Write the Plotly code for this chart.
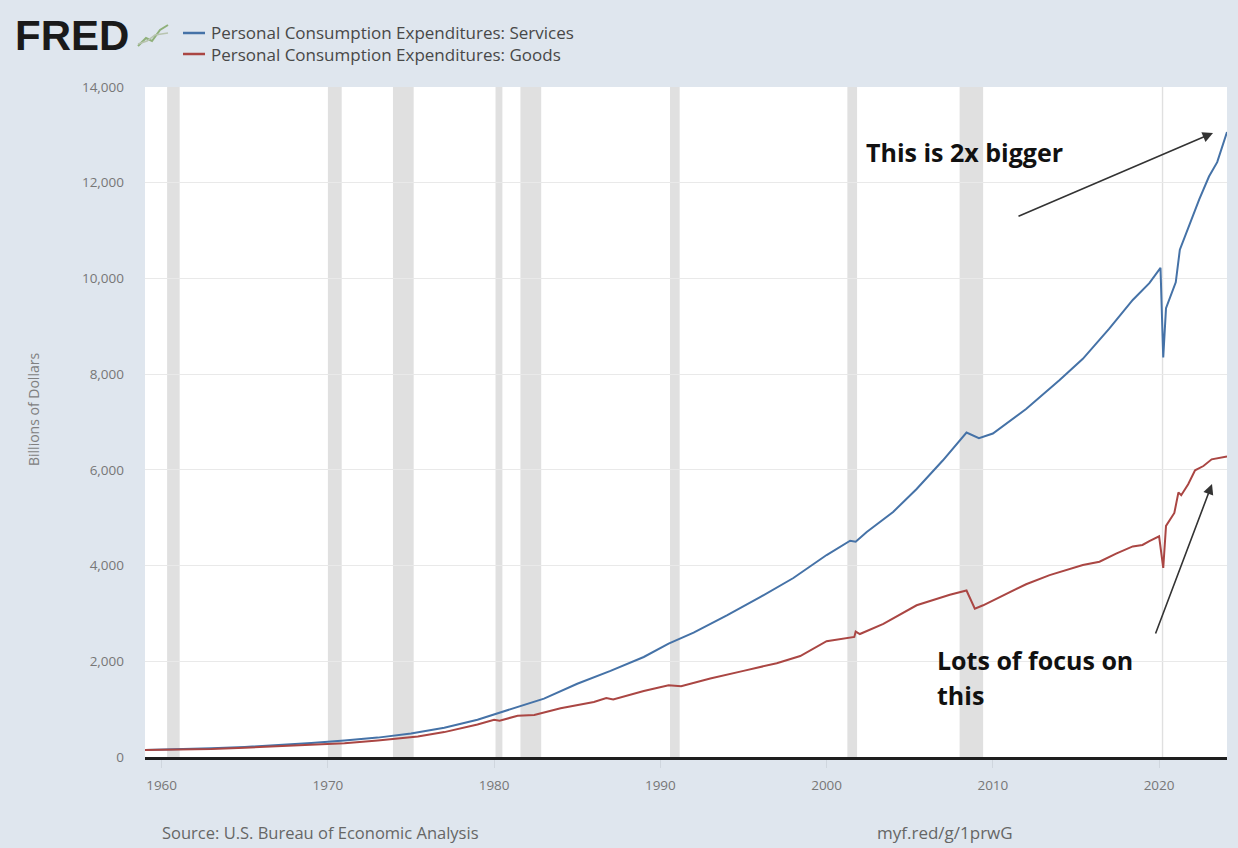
import plotly.graph_objects as go

# ---------------- data ----------------
svc_dates = ["1959-01-01", "1961-01-01", "1963-01-01", "1965-01-01", "1967-01-01", "1969-01-01",
             "1971-01-01", "1973-01-01", "1975-01-01", "1977-01-01", "1979-01-01", "1980-01-01",
             "1981-06-01", "1983-01-01", "1985-01-01", "1987-01-01", "1989-01-01", "1990-07-01",
             "1992-01-01", "1994-01-01", "1996-01-01", "1998-01-01", "2000-01-01", "2001-06-01",
             "2001-10-01", "2002-06-01", "2004-01-01", "2005-06-01", "2007-01-01", "2008-06-01",
             "2009-03-01", "2010-01-01", "2012-01-01", "2014-01-01", "2015-06-01", "2017-01-01",
             "2018-06-01", "2019-06-01", "2020-02-01", "2020-04-01", "2020-06-01", "2020-10-01",
             "2021-01-01", "2021-04-01", "2021-10-01", "2022-06-01", "2023-01-01", "2023-07-01",
             "2024-02-01"]
svc_vals = [147, 160, 183, 210, 247, 292,
            345, 405, 490, 610, 780, 890,
            1060, 1220, 1530, 1800, 2090, 2370,
            2600, 2960, 3340, 3740, 4220, 4520,
            4500, 4700, 5120, 5600, 6200, 6780,
            6660, 6760, 7270, 7870, 8320, 8950,
            9550, 9900, 10220, 8350, 9380, 9690,
            9920, 10600, 11050, 11650, 12130, 12430,
            13060]

gds_dates = ["1959-01-01", "1961-01-01", "1963-01-01", "1965-01-01", "1967-01-01", "1969-01-01",
             "1971-01-01", "1973-01-01", "1974-06-01", "1975-06-01", "1977-01-01", "1979-01-01",
             "1980-01-01", "1980-05-01", "1981-06-01", "1982-06-01", "1984-01-01", "1986-01-01",
             "1986-10-01", "1987-03-01", "1989-01-01", "1990-07-01", "1991-04-01", "1993-01-01",
             "1995-01-01", "1997-01-01", "1998-06-01", "2000-01-01", "2001-09-01", "2001-10-01",
             "2002-01-01", "2003-06-01", "2005-06-01", "2007-06-01", "2008-06-01", "2008-12-01",
             "2009-06-01", "2010-06-01", "2012-01-01", "2013-06-01", "2014-06-01", "2015-06-01",
             "2016-06-01", "2017-06-01", "2018-06-01", "2019-01-01", "2019-06-01", "2020-01-01",
             "2020-04-01", "2020-06-01", "2020-12-01", "2021-03-01", "2021-05-01", "2021-10-01",
             "2022-03-01", "2022-09-01", "2023-03-01", "2023-09-01", "2024-02-01"]
gds_vals = [145, 152, 168, 195, 222, 255,
            285, 345, 395, 430, 520, 680,
            780, 760, 860, 880, 1020, 1150,
            1230, 1200, 1380, 1500, 1480, 1640,
            1800, 1960, 2110, 2420, 2510, 2620,
            2570, 2780, 3170, 3390, 3480, 3100,
            3170, 3340, 3610, 3800, 3900, 4010,
            4080, 4250, 4400, 4430, 4510, 4610,
            3950, 4830, 5100, 5530, 5470, 5700,
            5990, 6080, 6220, 6250, 6280]

recession_starts = ["1960-05-01", "1970-01-01", "1973-12-01", "1980-02-01", "1981-08-01",
                    "1990-08-01", "2001-04-01", "2008-01-01", "2020-03-01"]
recession_ends = ["1961-02-01", "1970-11-01", "1975-03-01", "1980-07-01", "1982-11-01",
                  "1991-03-01", "2001-11-01", "2009-06-01", "2020-04-01"]

series_names = ["Personal Consumption Expenditures: Services",
                "Personal Consumption Expenditures: Goods"]
series_colors = ["#4572a7", "#aa4643"]
y_ticks = [0, 2000, 4000, 6000, 8000, 10000, 12000, 14000]

# ---------------- layout geometry ----------------
W, H = 1238, 848
L, R, T, B = 145, 1227, 87, 757
PW, PH = R - L, B - T


def px(xp):
    return (xp - L) / PW


def py(yp):
    return (B - yp) / PH


fig = go.Figure()
fig.add_trace(go.Scatter(x=svc_dates, y=svc_vals, mode="lines", name=series_names[0],
                         line=dict(color=series_colors[0], width=2)))
fig.add_trace(go.Scatter(x=gds_dates, y=gds_vals, mode="lines", name=series_names[1],
                         line=dict(color=series_colors[1], width=2)))

shapes = []
for s, e in zip(recession_starts, recession_ends):
    shapes.append(dict(type="rect", xref="x", yref="paper", x0=s, x1=e, y0=0, y1=1,
                       fillcolor="#e0e0e0", line=dict(width=0), layer="between"))

# manual legend lines
for c, ypix in zip(series_colors, [33, 54]):
    shapes.append(dict(type="line", xref="paper", yref="paper",
                       x0=px(183), x1=px(205), y0=py(ypix), y1=py(ypix),
                       line=dict(color=c, width=2.5)))

# small FRED chart icon
shapes.append(dict(type="path", xref="paper", yref="paper",
                   path="M {} {} L {} {} L {} {} L {} {} L {} {}".format(
                       px(138), py(46), px(146), py(38), px(152), py(41), px(160), py(30), px(168), py(25)),
                   line=dict(color="#8fb07a", width=2)))
shapes.append(dict(type="path", xref="paper", yref="paper",
                   path="M {} {} L {} {} L {} {} L {} {}".format(
                       px(138), py(44), px(147), py(41), px(155), py(35), px(168), py(33)),
                   line=dict(color="#b8c4b0", width=1.5)))

annotations = []
annotations.append(dict(text="<b>FRED</b>", xref="paper", yref="paper", x=px(13), y=py(35),
                        xanchor="left", yanchor="middle", showarrow=False,
                        font=dict(family="Liberation Sans", size=42, color="#1a1a1a")))
for name, ypix in zip(series_names, [33, 54]):
    annotations.append(dict(text=name, xref="paper", yref="paper", x=px(209), y=py(ypix),
                            xanchor="left", yanchor="middle", showarrow=False,
                            font=dict(family="Open Sans", size=17, color="#484848")))
annotations.append(dict(text="Billions of Dollars", xref="paper", yref="paper", x=px(33), y=py(410),
                        xanchor="center", yanchor="middle", textangle=-90, showarrow=False,
                        font=dict(family="Open Sans", size=14, color="#808080")))
annotations.append(dict(text="Source: U.S. Bureau of Economic Analysis", xref="paper", yref="paper",
                        x=px(160), y=py(832), xanchor="left", yanchor="middle", showarrow=False,
                        font=dict(family="Open Sans", size=16.5, color="#666666")))
annotations.append(dict(text="myf.red/g/1prwG", xref="paper", yref="paper",
                        x=px(875), y=py(832), xanchor="left", yanchor="middle", showarrow=False,
                        font=dict(family="Open Sans", size=17, color="#666666")))

# commentary arrows
annotations.append(dict(text="", xref="paper", yref="paper", x=px(1213), y=py(133),
                        ax=1017 - 1213, ay=217 - 133, axref="pixel", ayref="pixel",
                        showarrow=True, arrowhead=2, arrowsize=1.3, arrowwidth=1.6,
                        arrowcolor="#333333"))
annotations.append(dict(text="", xref="paper", yref="paper", x=px(1212), y=py(484),
                        ax=1155 - 1212, ay=635 - 484, axref="pixel", ayref="pixel",
                        showarrow=True, arrowhead=2, arrowsize=1.3, arrowwidth=1.6,
                        arrowcolor="#333333"))
for txt, xpix, ypix in [("This is 2x bigger", 864, 152), ("Lots of focus on", 935, 660), ("this", 935, 695)]:
    annotations.append(dict(text="<b>" + txt + "</b>", xref="paper", yref="paper",
                            x=px(xpix), y=py(ypix), xanchor="left", yanchor="middle",
                            showarrow=False,
                            font=dict(family="Open Sans", size=25, color="#111111")))

fig.update_layout(
    width=W, height=H,
    margin=dict(l=L, r=W - R, t=T, b=H - B, pad=0),
    paper_bgcolor="#dfe6ee",
    plot_bgcolor="#ffffff",
    showlegend=False,
    shapes=shapes,
    annotations=annotations,
    font=dict(family="Open Sans", color="#777777"),
)
fig.update_xaxes(
    type="date", range=["1959-01-01", "2024-02-01"],
    tick0="1960-01-01", dtick="M120", tickformat="%Y",
    showgrid=False, zeroline=False,
    showline=True, linecolor="#1e1e1e", linewidth=3,
    ticks="outside", ticklen=8, tickcolor="#cfd6de", tickwidth=1,
    ticklabelstandoff=6,
    tickfont=dict(family="Open Sans", size=13.5, color="#777777"),
)
fig.update_yaxes(
    range=[0, 14000], tickvals=y_ticks, tickformat=",",
    showgrid=True, gridcolor="#e9e9e9", gridwidth=1, zeroline=False,
    showline=False, ticks="", ticklabelstandoff=20,
    tickfont=dict(family="Open Sans", size=13.5, color="#777777"),
)

fig.write_html("out.html", config={"displayModeBar": False},
               post_script="document.body.style.margin='0px';")
